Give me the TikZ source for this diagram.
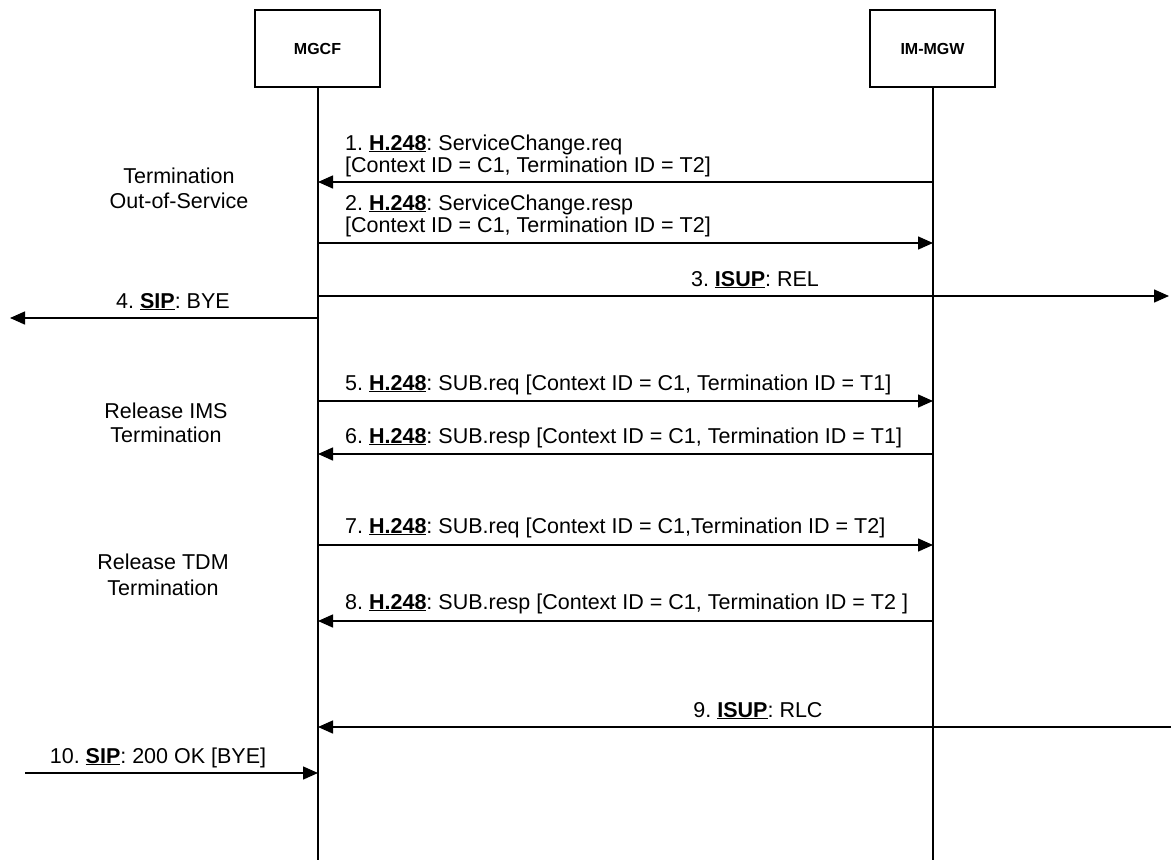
\documentclass[tikz,border=0pt]{standalone}
\usepackage{fontspec}
\setmainfont{Liberation Sans}
\usetikzlibrary{arrows.meta}
\begin{document}
\begin{tikzpicture}[x=1pt,y=-1pt,
  ent/.style={draw,line width=1.6pt,minimum width=125pt,minimum height=77pt,inner sep=0pt,font=\fontsize{16}{18}\selectfont\bfseries},
  life/.style={line width=1.5pt},
  msg/.style={line width=1.5pt,-{Triangle[length=15pt,width=13pt]}},
  lbl/.style={font=\fontsize{21.5}{24}\selectfont\frenchspacing,inner sep=0pt,anchor=base west},
  clbl/.style={font=\fontsize{21.5}{24}\selectfont\frenchspacing,inner sep=0pt,anchor=base}]
\useasboundingbox (0,0) rectangle (1171,860);
\newcommand{\proto}[1]{\underline{\textbf{#1}}}
% entities
\node[ent] (mgcf) at (317.5,48.5) {MGCF};
\node[ent] (mgw) at (932.5,48.5) {IM-MGW};
\coordinate (mgcfend) at (318,860);
\coordinate (mgwend) at (933,860);
\draw[life] (mgcf.south -| mgcfend) -- (mgcfend);
\draw[life] (mgw.south -| mgwend) -- (mgwend);
% coordinates on lifelines
\foreach \n/\y in {1/182,2/243,3/296,4/318,5/401,6/454,7/545,8/621,9/727,10/773}{
  \coordinate (a\n) at (318,\y);
  \coordinate (b\n) at (933,\y);
}
\coordinate (right3) at (1169,296);
\coordinate (left4) at (10,318);
\coordinate (right9) at (1171,727);
\coordinate (left10) at (25,773);
% messages
\draw[msg] (b1) -- (a1);
\node[lbl] (l1a) at (345,150) {1. \proto{H.248}: ServiceChange.req};
\node[lbl] (l1b) at (345,172) {[Context ID = C1, Termination ID = T2]};
\draw[msg] (a2) -- (b2);
\node[lbl] (l2a) at (345,210) {2. \proto{H.248}: ServiceChange.resp};
\node[lbl] (l2b) at (345,232) {[Context ID = C1, Termination ID = T2]};
\draw[msg] (a3) -- (right3);
\node[clbl] (l3) at (755,286) {3. \proto{ISUP}: REL};
\draw[msg] (a4) -- (left4);
\node[clbl] (l4) at (173,308) {4. \proto{SIP}: BYE};
\draw[msg] (a5) -- (b5);
\node[lbl] (l5) at (345,390) {5. \proto{H.248}: SUB.req [Context ID = C1, Termination ID = T1]};
\draw[msg] (b6) -- (a6);
\node[lbl] (l6) at (345,443) {6. \proto{H.248}: SUB.resp [Context ID = C1, Termination ID = T1]};
\draw[msg] (a7) -- (b7);
\node[lbl] (l7) at (345,533) {7. \proto{H.248}: SUB.req [Context ID = C1,Termination ID = T2]};
\draw[msg] (b8) -- (a8);
\node[lbl] (l8) at (345,609) {8. \proto{H.248}: SUB.resp [Context ID = C1, Termination ID = T2 ]};
\draw[msg] (right9) -- (a9);
\node[clbl] (l9) at (758,717) {9. \proto{ISUP}: RLC};
\draw[msg] (left10) -- (a10);
\node[clbl] (l10) at (158,763) {10. \proto{SIP}: 200 OK [BYE]};
% side notes
\node[clbl] (s1a) at (179,183) {Termination};
\node[clbl] (s1b) at (179,208) {Out-of-Service};
\node[clbl] (s2a) at (166,418) {Release IMS};
\node[clbl] (s2b) at (166,442) {Termination};
\node[clbl] (s3a) at (163,569) {Release TDM};
\node[clbl] (s3b) at (163,595) {Termination};
\end{tikzpicture}
\end{document}
